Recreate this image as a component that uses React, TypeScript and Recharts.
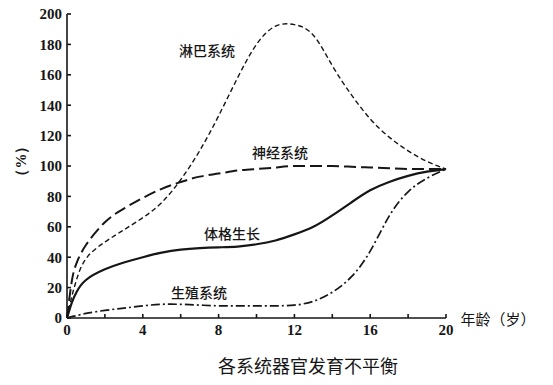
import { LineChart, Line, XAxis, YAxis } from "recharts";

const ages = [0, 0.25, 0.5, 1, 2, 3, 4, 5, 6, 7, 8, 9, 10, 11, 12, 13, 14, 15, 16, 17, 18, 19, 20];
const lymph = [0, 14, 25, 39, 50, 58, 66, 76, 91, 110, 133, 158, 180, 192, 193, 186, 166, 147, 131, 119, 110, 103, 98];
const nerve = [0, 24, 36, 48, 63, 72, 79, 85, 89.5, 93, 95, 97, 98, 99, 100, 100, 100, 99.5, 99, 98.5, 98, 98, 98];
const body = [0, 10, 17, 25, 32, 36.5, 40, 43, 45, 46, 46.5, 47, 48.5, 51, 55, 60, 67.5, 76, 84, 89.5, 93.5, 96.3, 98];
const repro = [0, 1, 1.5, 3, 5, 6.5, 8, 9, 9, 8.5, 8, 8, 8, 8, 8.5, 11, 17, 27, 44, 67, 83, 92, 98];

const xTicks = [0, 2, 4, 6, 8, 10, 12, 14, 16, 18, 20];
const yTicks = [0, 20, 40, 60, 80, 100, 120, 140, 160, 180, 200];

const data = ages.map((age, i) => ({
  age,
  lymph: lymph[i],
  nerve: nerve[i],
  body: body[i],
  repro: repro[i],
}));

const ink = "#161616";
const tickStyle = { fontFamily: "Liberation Serif", fontSize: 15, fontWeight: 700, fill: ink };
const cjk = "'Noto Sans CJK SC', sans-serif";

function Note({ x, y, size = 14, weight = 500, children }: { x: number; y: number; size?: number; weight?: number; children: React.ReactNode }) {
  return (
    <div
      style={{
        position: "absolute",
        left: x,
        top: y,
        transform: "translate(-50%, -50%)",
        fontFamily: cjk,
        fontSize: size,
        fontWeight: weight,
        color: ink,
        whiteSpace: "nowrap",
        lineHeight: 1,
      }}
    >
      {children}
    </div>
  );
}

export default function App() {
  return (
    <div style={{ position: "absolute", left: 0, top: 0, width: 553, height: 385, background: "#fff" }}>
      <LineChart
        width={553}
        height={385}
        data={data}
        margin={{ top: 14, right: 107, bottom: 37, left: 27 }}
      >
        <XAxis
          dataKey="age"
          type="number"
          domain={[0, 20]}
          ticks={xTicks}
          height={30}
          tickSize={-4}
          tickMargin={10}
          tickFormatter={(v: number) => (v % 4 === 0 ? String(v) : "")}
          stroke={ink}
          strokeWidth={1.6}
          tick={tickStyle}
          interval={0}
        />
        <YAxis
          type="number"
          domain={[0, 200]}
          ticks={yTicks}
          width={40}
          tickSize={-4}
          tickMargin={9}
          stroke={ink}
          strokeWidth={1.6}
          tick={tickStyle}
          interval={0}
        />
        <Line dataKey="lymph" type="natural" stroke={ink} strokeWidth={1.4} strokeDasharray="5 3" dot={false} isAnimationActive={false} />
        <Line dataKey="nerve" type="natural" stroke={ink} strokeWidth={2} strokeDasharray="12 5" dot={false} isAnimationActive={false} />
        <Line dataKey="body" type="natural" stroke={ink} strokeWidth={2.2} dot={false} isAnimationActive={false} />
        <Line dataKey="repro" type="natural" stroke={ink} strokeWidth={1.7} strokeDasharray="9 3 2 3" dot={false} isAnimationActive={false} />
      </LineChart>
      <Note x={207} y={50}>淋巴系统</Note>
      <Note x={280} y={152}>神经系统</Note>
      <Note x={232} y={233}>体格生长</Note>
      <Note x={199} y={292}>生殖系统</Note>
      <Note x={498} y={318} size={15} weight={400}>年龄（岁）</Note>
      <Note x={308} y={365} size={18} weight={400}>各系统器官发育不平衡</Note>
      <div
        style={{
          position: "absolute",
          left: 21,
          top: 161,
          transform: "translate(-50%, -50%) rotate(-90deg)",
          fontFamily: "Liberation Serif",
          fontSize: 15,
          fontWeight: 700,
          color: ink,
          whiteSpace: "nowrap",
          lineHeight: 1,
        }}
      >
        （%）
      </div>
    </div>
  );
}
